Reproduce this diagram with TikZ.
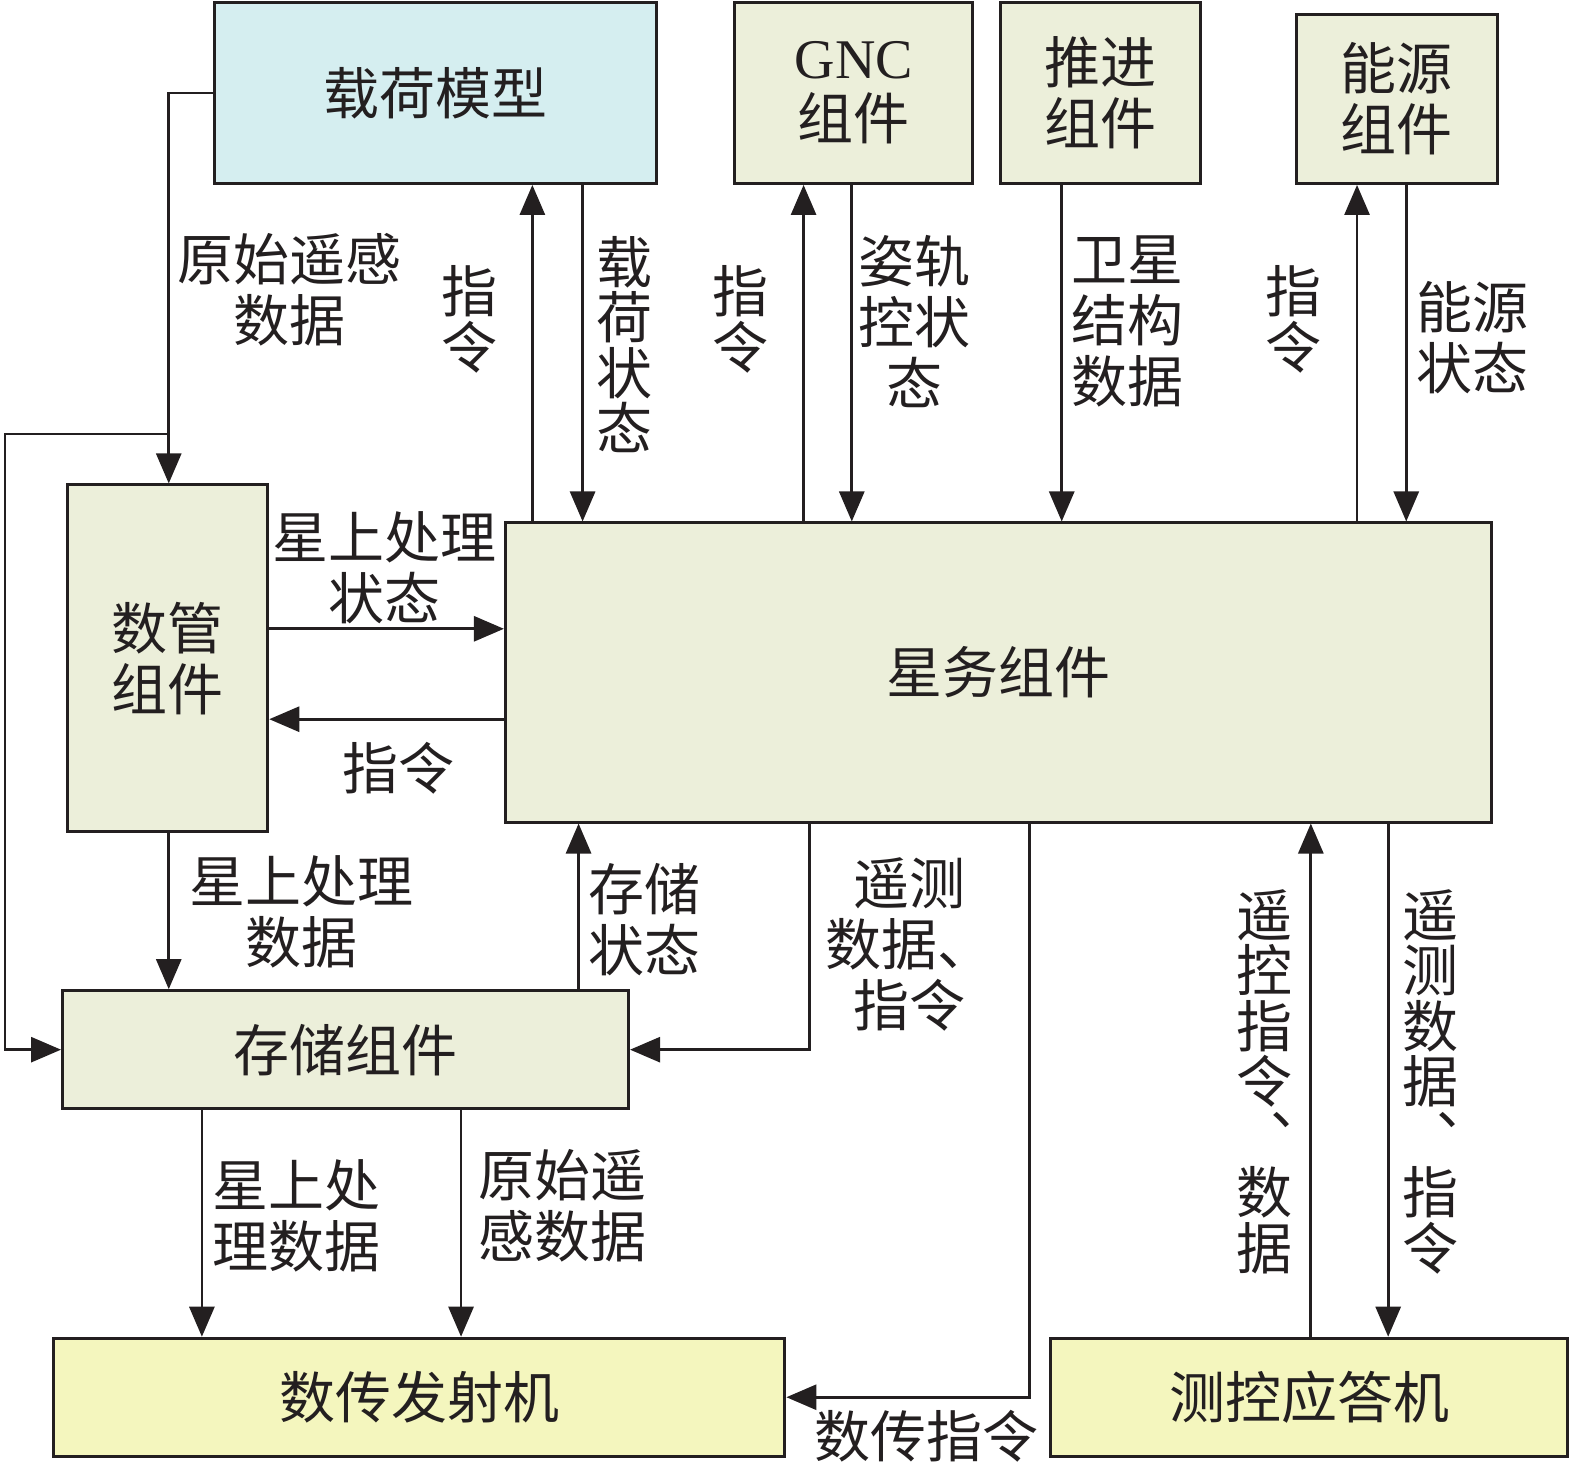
\documentclass[tikz,border=0pt]{standalone}
\usepackage{fontspec}
\setmainfont{Liberation Serif}
\newfontfamily\cjk{Noto Sans CJK SC}
\usetikzlibrary{arrows.meta}
\definecolor{lc}{HTML}{231F20}
\definecolor{cyanbox}{HTML}{D5EEF0}
\definecolor{greenbox}{HTML}{ECEFDA}
\definecolor{yellowbox}{HTML}{F4F6BE}
\begin{document}
\begin{tikzpicture}[x=1.00446pt,y=-1.00446pt,
  box/.style={draw=lc, line width=3pt, align=center, inner sep=0pt, text=lc,
    font=\cjk\fontsize{56}{61}\selectfont},
  lbl/.style={align=center, inner sep=0pt, text=lc, font=\cjk\fontsize{56}{61}\selectfont},
  vlbl/.style={align=center, inner sep=0pt, text=lc, font=\cjk\fontsize{56}{55.5}\selectfont},
  arr/.style={draw=lc, line width=2.8pt, -{Triangle[length=30pt,width=25pt]}}]
\useasboundingbox (0,0) rectangle (1568,1466);
% boxes
\node[box, fill=cyanbox, minimum width=442pt, minimum height=181pt] (zh) at (434,92.5) {载荷模型};
\node[box, fill=greenbox, minimum width=238pt, minimum height=181pt] (gnc) at (850,92.5) {{\rmfamily GNC}\\组件};
\node[box, fill=greenbox, minimum width=200pt, minimum height=181pt] (tj) at (1096,92.5) {推进\\组件};
\node[box, fill=greenbox, minimum width=201pt, minimum height=169pt] (ny) at (1390.5,98.5) {能源\\组件};
\node[box, fill=greenbox, minimum width=200pt, minimum height=347pt] (sg) at (167,655.5) {数管\\组件};
\node[box, fill=greenbox, minimum width=986pt, minimum height=299pt] (xw) at (994,669.5) {星务组件};
\node[box, fill=greenbox, minimum width=566pt, minimum height=118pt] (cc) at (344,1045) {存储组件};
\node[box, fill=yellowbox, minimum width=731pt, minimum height=118pt] (sc) at (417.5,1391) {数传发射机};
\node[box, fill=yellowbox, minimum width=517pt, minimum height=118pt] (ck) at (1303.5,1391) {测控应答机};
% helper coordinates
\coordinate (x168) at (168,0);
\coordinate (x530) at (530,0);
\coordinate (x580) at (580,0);
\coordinate (x800) at (800,0);
\coordinate (x848) at (848,0);
\coordinate (x1057) at (1057,0);
\coordinate (x1351) at (1351,0);
\coordinate (x1400) at (1400,0);
\coordinate (x576) at (576,0);
\coordinate (x806) at (806,0);
\coordinate (x1025) at (1025,0);
\coordinate (x1305) at (1305,0);
\coordinate (x1382) at (1382,0);
\coordinate (x201) at (201,0);
\coordinate (x459) at (459,0);
\coordinate (y626) at (0,626);
\coordinate (y716) at (0,716);
\coordinate (j1) at (168,432);
\coordinate (l1) at (5,432);
% connectors
\draw[arr] (zh.west) -| (x168 |- sg.north);
\draw[arr] (j1) -- (l1) |- (cc.west);
\draw[arr] (x530 |- xw.north) -- (x530 |- zh.south);
\draw[arr] (x580 |- zh.south) -- (x580 |- xw.north);
\draw[arr] (x800 |- xw.north) -- (x800 |- gnc.south);
\draw[arr] (x848 |- gnc.south) -- (x848 |- xw.north);
\draw[arr] (x1057 |- tj.south) -- (x1057 |- xw.north);
\draw[arr] (x1351 |- xw.north) -- (x1351 |- ny.south);
\draw[arr] (x1400 |- ny.south) -- (x1400 |- xw.north);
\draw[arr] (sg.east |- y626) -- (xw.west |- y626);
\draw[arr] (xw.west |- y716) -- (sg.east |- y716);
\draw[arr] (x168 |- sg.south) -- (x168 |- cc.north);
\draw[arr] (x576 |- cc.north) -- (x576 |- xw.south);
\draw[arr] (x806 |- xw.south) |- (cc.east);
\draw[arr] (x1025 |- xw.south) |- (sc.east);
\draw[arr] (x1305 |- ck.north) -- (x1305 |- xw.south);
\draw[arr] (x1382 |- xw.south) -- (x1382 |- ck.north);
\draw[arr] (x201 |- cc.south) -- (x201 |- sc.north);
\draw[arr] (x459 |- cc.south) -- (x459 |- sc.north);
% labels
\node[lbl] (t1) at (288,288) {原始遥感\\数据};
\node[vlbl] (t2) at (467,318) {指\\令};
\node[vlbl] (t3) at (622,343) {载\\荷\\状\\态};
\node[vlbl] (t4) at (737,318) {指\\令};
\node[lbl] (t5) at (910,320) {姿轨\\控状\\态};
\node[lbl] (t6) at (1122,320) {卫星\\结构\\数据};
\node[vlbl] (t7) at (1288,318) {指\\令};
\node[lbl] (t8) at (1466,336) {能源\\状态};
\node[lbl] (t9) at (383,565) {星上处理\\状态};
\node[lbl] (t10) at (397,765) {指令};
\node[lbl] (t11) at (300,908) {星上处理\\数据};
\node[lbl] (t12) at (642,916) {存储\\状态};
\node[lbl] (t13) at (905,940) {遥测\\数据、\\指令};
\node[lbl] (t14) at (922,1430) {数传指令};
\node[vlbl] (t15) at (1259,1077) {遥\\控\\指\\令\\︑\\数\\据};
\node[vlbl] (t16) at (1424,1077) {遥\\测\\数\\据\\︑\\指\\令};
\node[lbl] (t17) at (295,1210) {星上处\\理数据};
\node[lbl] (t18) at (560,1200) {原始遥\\感数据};
\end{tikzpicture}
\end{document}
